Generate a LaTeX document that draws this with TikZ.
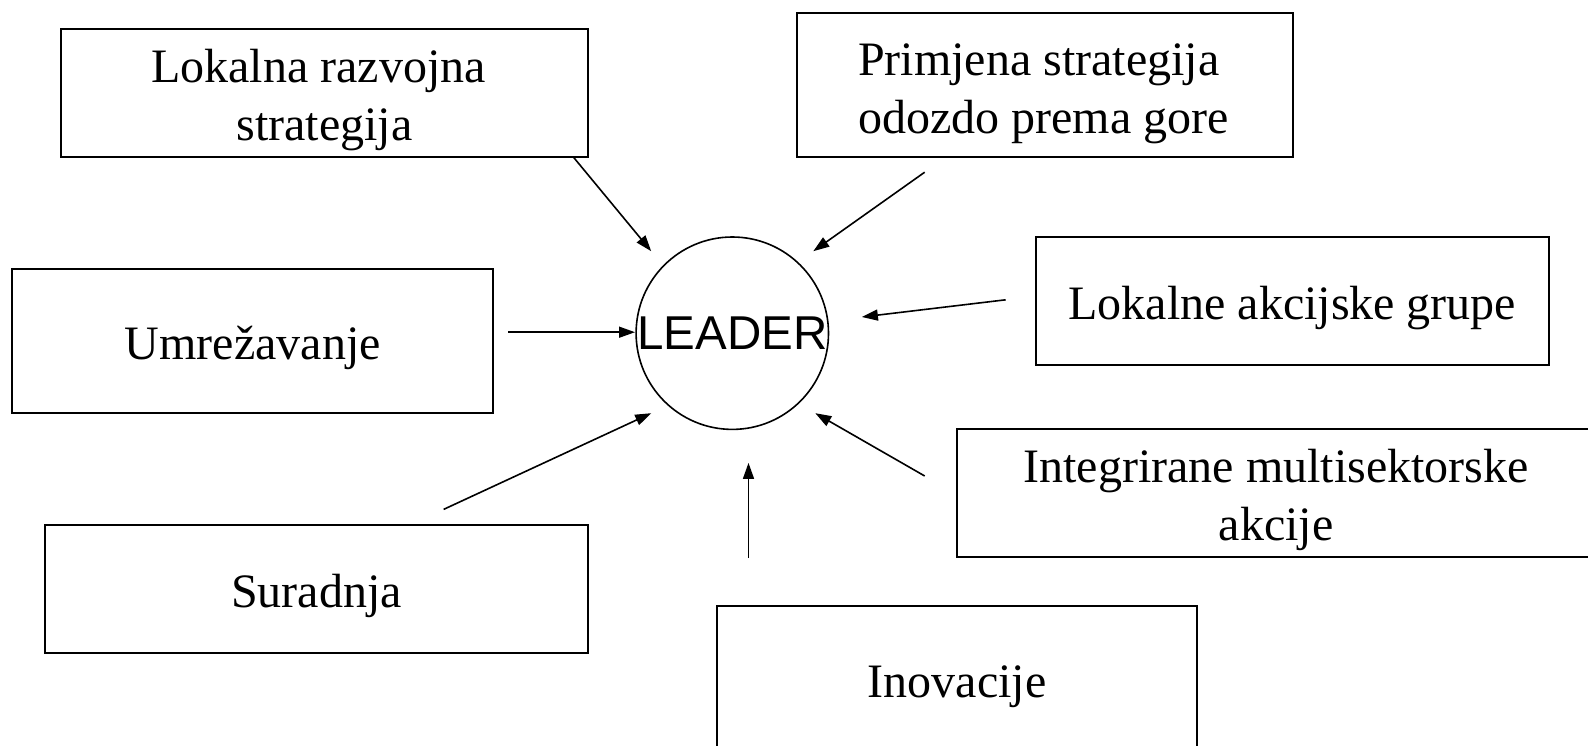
\documentclass[tikz,border=0pt]{standalone}
\usepackage{fontspec}
\setmainfont{Liberation Serif}
\newfontfamily\leadfont{Liberation Sans}
\usetikzlibrary{arrows.meta}
\begin{document}
\begin{tikzpicture}[x=1pt,y=-1pt,
  box/.style={draw,line width=2pt,rectangle,inner sep=0pt},
  txt/.style={inner sep=0pt,align=center,font=\fontsize{48}{57.7}\selectfont},
  arr/.style={line width=1.6pt,-{Triangle[length=16pt,width=11pt]}}]
\useasboundingbox[fill=white] (0,0) rectangle (1588,746);
% boxes
\node[box,minimum width=527.6pt,minimum height=127.6pt] (lrs) at (324.6,93.2) {};
\node[box,minimum width=496.2pt,minimum height=143.8pt] (psp) at (1045.2,85.1) {};
\node[box,minimum width=481pt,minimum height=143.8pt] (umr) at (252.7,341.3) {};
\node[box,minimum width=512.5pt,minimum height=127.6pt] (lag) at (1292.3,300.8) {};
\node[box,minimum width=638pt,minimum height=127.6pt] (ima) at (1276,493.2) {};
\node[box,minimum width=543.8pt,minimum height=128.7pt] (sur) at (316.5,589) {};
\node[box,minimum width=480pt,minimum height=148pt] (ino) at (957,680) {};
% texts
\node[txt] (lrst) at ([yshift=-7pt]lrs.center) {Lokalna razvojna\rule{12pt}{0pt}\\strategija};
\node[txt,align=left,anchor=west] (pspt) at ([yshift=-9pt]psp.center -| 858,0) {Primjena strategija\\odozdo prema gore};
\node[txt] (umrt) at ([yshift=-7pt]umr.center) {Umrežavanje};
\node[txt] (lagt) at ([yshift=-7pt]lag.center) {Lokalne akcijske grupe};
\node[txt] (imat) at ([yshift=-7pt]ima.center) {Integrirane multisektorske\\akcije};
\node[txt] (surt) at ([yshift=-7pt]sur.center) {Suradnja};
\node[txt] (inot) at ([yshift=-7pt]ino.center) {Inovacije};
% centre
\node[draw,circle,line width=1.6pt,minimum size=192.4pt,inner sep=0pt,
  font=\leadfont\fontsize{47.5}{50}\selectfont] (lead) at (732.3,333.2) {LEADER};
% arrow ends
\coordinate (s1) at (573.3,157);   \coordinate (e1) at (651.2,251.2);
\coordinate (s2) at (924.7,172.2); \coordinate (e2) at (813.3,251.2);
\coordinate (s3) at (508.4,332.2); \coordinate (e3) at (635,332.2);
\coordinate (s4) at (1005.7,299.8);\coordinate (e4) at (861.9,317);
\coordinate (s5) at (443.6,509.4); \coordinate (e5) at (651.2,413.2);
\coordinate (s6) at (748.5,558);   \coordinate (e6) at (748.5,462.9);
\coordinate (s7) at (924.7,476);   \coordinate (e7) at (815.3,413.2);
\foreach \i in {1,...,7} {\draw[arr] (s\i) -- (e\i);}
\end{tikzpicture}
\end{document}
